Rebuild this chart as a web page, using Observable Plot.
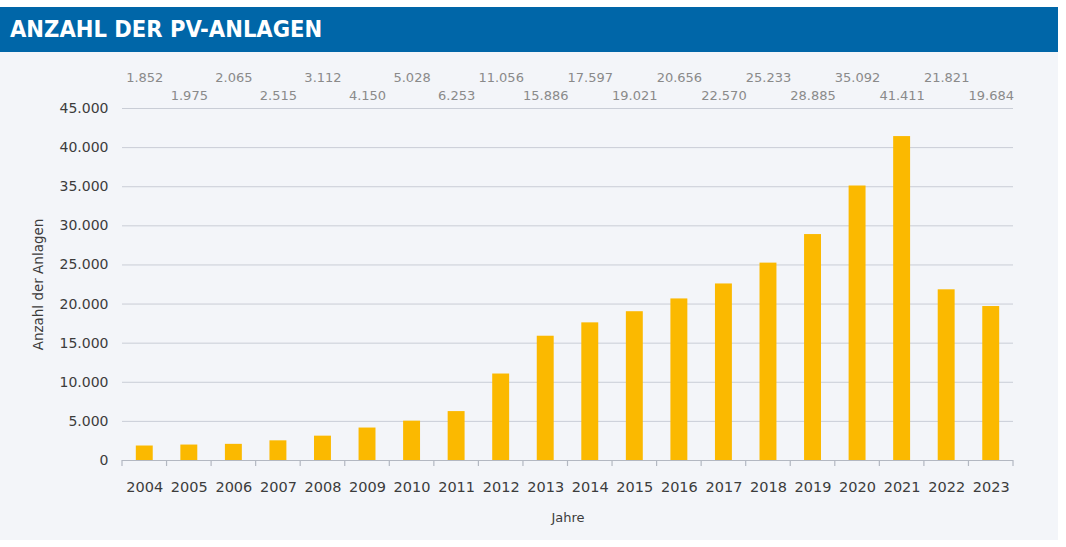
<!DOCTYPE html>
<html><head><meta charset="utf-8">
<script src="https://cdn.jsdelivr.net/npm/d3@7"></script>
<script src="https://cdn.jsdelivr.net/npm/@observablehq/plot@0.6"></script>
<style>
body{margin:0;background:#fff;}
#wrap{position:relative;width:1058px;}
#hdr{margin-top:7px;height:45px;background:#0066a8;color:#fff;font-family:"DejaVu Sans Condensed","DejaVu Sans";font-stretch:condensed;font-weight:bold;font-size:23.5px;line-height:45px;padding-left:10px;box-sizing:border-box;}
#panel{background:#f3f5f9;height:488px;}
</style></head>
<body>
<div id="wrap"><div id="hdr">ANZAHL DER PV-ANLAGEN</div><div id="panel"></div></div>
<script>
const years = ["2004","2005","2006","2007","2008","2009","2010","2011","2012","2013","2014","2015","2016","2017","2018","2019","2020","2021","2022","2023"];
const values = [1852,1975,2065,2515,3112,4150,5028,6253,11056,15886,17597,19021,20656,22570,25233,28885,35092,41411,21821,19684];
const yTicks = [0,5000,10000,15000,20000,25000,30000,35000,40000,45000];
const yTitle = "Anzahl der Anlagen";
const xTitle = "Jahre";

const loc = d3.formatLocale({decimal:",", thousands:".", grouping:[3], currency:["","€"]});
const fmt = loc.format(",d");
const data = years.map((y,i)=>({year:y, value:values[i], row:i%2}));

const chart = Plot.plot({
  width:1058, height:488, marginTop:56, marginBottom:80, marginLeft:122, marginRight:45,
  style:{background:"transparent", fontFamily:"DejaVu Sans", fontSize:"14px", color:"#3c3c3c"},
  x:{domain:years, paddingInner:0.62, paddingOuter:0.31, round:false},
  y:{domain:[0,45000]},
  marks:[
    Plot.ruleY(yTicks.filter(d=>d>0), {stroke:"#c9cdd6", strokeWidth:1}),
    Plot.barY(data, {x:"year", y:"value", fill:"#fbb900"}),
    Plot.ruleY([0], {stroke:"#b3b8c2", strokeWidth:1.2}),
    Plot.axisY({ticks:yTicks, tickSize:0, tickPadding:14, tickFormat:fmt, label:null, fontSize:14, fill:"#3c3c3c"}),
    Plot.axisX({tickSize:0, tickPadding:21, label:null, fontSize:14.5, fill:"#3c3c3c"}),
    Plot.text(data.filter(d=>d.row===0), {x:"year", text:d=>fmt(d.value), frameAnchor:"top", lineAnchor:"middle", dy:-31, fill:"#8a8a8a", fontSize:13}),
    Plot.text(data.filter(d=>d.row===1), {x:"year", text:d=>fmt(d.value), frameAnchor:"top", lineAnchor:"middle", dy:-13, fill:"#8a8a8a", fontSize:13}),
    Plot.text([yTitle], {text:d=>d, frameAnchor:"left", textAnchor:"middle", rotate:-90, dx:-84, lineAnchor:"middle", fill:"#3c3c3c", fontSize:13.5}),
    Plot.text([xTitle], {text:d=>d, frameAnchor:"bottom", dy:57, lineAnchor:"middle", fill:"#3c3c3c", fontSize:13})
  ]
});
document.getElementById("panel").appendChild(chart);

// tick marks at category boundaries, from the library's x scale
const xs = chart.scale("x"), ys = chart.scale("y");
const y0 = ys.apply(0);
const bounds = years.map(y => xs.apply(y) + xs.bandwidth/2 - xs.step/2);
bounds.push(xs.apply(years[years.length-1]) + xs.bandwidth/2 + xs.step/2);
d3.select(chart).append("g").selectAll("line").data(bounds).join("line")
  .attr("x1", d=>d).attr("x2", d=>d).attr("y1", y0).attr("y2", y0+6)
  .attr("stroke", "#b3b8c2").attr("stroke-width", 1.2);
</script>
</body></html>
